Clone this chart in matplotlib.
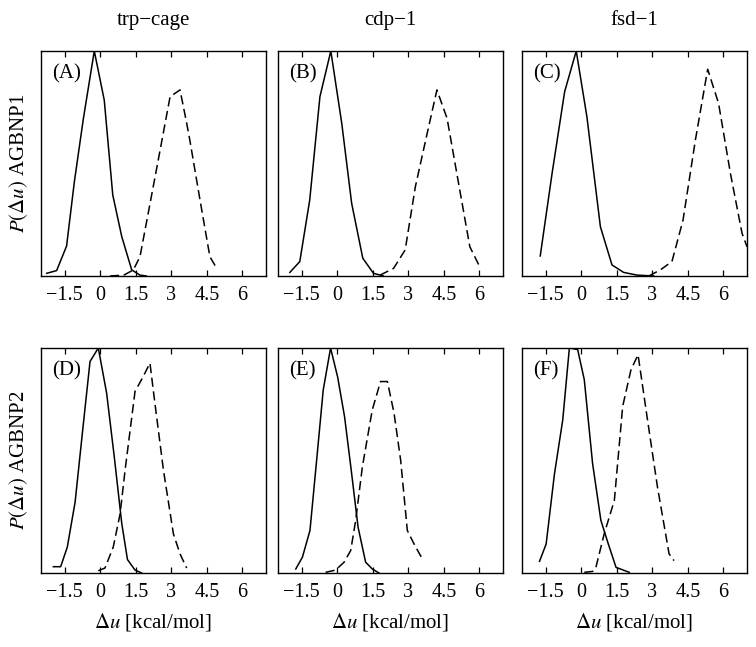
import matplotlib
matplotlib.use("Agg")
import matplotlib.pyplot as plt

plt.rcParams['font.family'] = ['Liberation Serif', 'DejaVu Serif']
plt.rcParams['mathtext.fontset'] = 'stix'

# columns / rows
proteins = ['trp\u2212cage', 'cdp\u22121', 'fsd\u22121']
models = ['AGBNP1', 'AGBNP2']
panel_tags = ['(A)', '(B)', '(C)', '(D)', '(E)', '(F)']
xticks = [-1.5, 0, 1.5, 3, 4.5, 6]

# AGBNP1 row, solid = first curve, dashed = second curve
a_solid_x = [-2.26, -1.84, -1.42, -1.09, -0.71, -0.25, 0.17, 0.53, 0.91, 1.33, 1.68, 1.95]
a_solid_y = [0.012, 0.024, 0.133, 0.42, 0.70, 1.0, 0.782, 0.36, 0.175, 0.027, 0.004, 0.0]
a_dash_x = [0.41, 1.0, 1.40, 1.68, 2.10, 2.53, 2.95, 3.37, 3.65, 3.79, 4.21, 4.63, 4.92]
a_dash_y = [0.0, 0.004, 0.027, 0.086, 0.32, 0.56, 0.797, 0.827, 0.68, 0.60, 0.34, 0.086, 0.034]

b_solid_x = [-2.0, -1.58, -1.16, -0.73, -0.27, 0.19, 0.61, 1.08, 1.53, 1.95]
b_solid_y = [0.016, 0.064, 0.338, 0.797, 1.0, 0.68, 0.323, 0.079, 0.012, 0.0]
b_dash_x = [1.81, 2.38, 2.87, 3.30, 3.79, 4.21, 4.64, 5.06, 5.60, 6.05]
b_dash_y = [0.004, 0.034, 0.116, 0.397, 0.63, 0.827, 0.70, 0.45, 0.13, 0.034]

c_solid_x = [-1.73, -1.23, -0.70, -0.21, 0.24, 0.81, 1.30, 1.79, 2.36, 3.06]
c_solid_y = [0.089, 0.456, 0.819, 1.0, 0.708, 0.219, 0.049, 0.016, 0.004, 0.0]
c_dash_x = [2.85, 3.34, 3.83, 4.30, 4.82, 5.34, 5.80, 6.30, 6.79, 7.0]
c_dash_y = [0.0, 0.027, 0.064, 0.249, 0.604, 0.919, 0.767, 0.456, 0.19, 0.13]

# AGBNP2 row
d_solid_x = [-1.98, -1.67, -1.39, -1.06, -0.74, -0.43, -0.08, 0.27, 0.59, 0.91, 1.15, 1.47, 1.75]
d_solid_y = [0.028, 0.028, 0.115, 0.315, 0.635, 0.94, 1.0, 0.80, 0.52, 0.22, 0.06, 0.013, 0.0]
d_dash_x = [-0.08, 0.20, 0.55, 0.84, 1.05, 1.47, 1.78, 2.10, 2.31, 2.67, 3.09, 3.37, 3.65]
d_dash_y = [0.01, 0.022, 0.115, 0.263, 0.457, 0.807, 0.866, 0.933, 0.754, 0.457, 0.174, 0.085, 0.022]

e_solid_x = [-1.75, -1.47, -1.15, -0.87, -0.59, -0.28, 0.02, 0.31, 0.60, 0.88, 1.20, 1.48, 1.76]
e_solid_y = [0.018, 0.07, 0.189, 0.50, 0.814, 1.0, 0.87, 0.695, 0.45, 0.204, 0.048, 0.018, 0.0]
e_dash_x = [-0.49, -0.07, 0.29, 0.57, 0.78, 1.06, 1.48, 1.83, 2.12, 2.40, 2.68, 2.96, 3.24, 3.59]
e_dash_y = [0.003, 0.013, 0.048, 0.10, 0.234, 0.47, 0.725, 0.851, 0.851, 0.71, 0.50, 0.189, 0.13, 0.063]

f_solid_x = [-1.76, -1.48, -1.13, -0.78, -0.50, -0.15, 0.13, 0.48, 0.83, 1.12, 1.47, 2.03]
f_solid_y = [0.052, 0.129, 0.44, 0.68, 1.0, 0.993, 0.859, 0.487, 0.234, 0.137, 0.025, 0.003]
f_dash_x = [0.13, 0.48, 0.62, 0.97, 1.40, 1.75, 2.10, 2.40, 2.80, 3.22, 3.71, 3.92]
f_dash_y = [0.003, 0.007, 0.025, 0.174, 0.323, 0.74, 0.903, 0.97, 0.68, 0.382, 0.085, 0.055]

solids = [(a_solid_x, a_solid_y), (b_solid_x, b_solid_y), (c_solid_x, c_solid_y),
          (d_solid_x, d_solid_y), (e_solid_x, e_solid_y), (f_solid_x, f_solid_y)]
dashes = [(a_dash_x, a_dash_y), (b_dash_x, b_dash_y), (c_dash_x, c_dash_y),
          (d_dash_x, d_dash_y), (e_dash_x, e_dash_y), (f_dash_x, f_dash_y)]

fig = plt.figure(figsize=(7.56, 6.47), dpi=100)
W, H = 756, 647
lefts = [41, 278, 522]
tops = [51, 348]
aw, ah = 225, 225

for i in range(6):
    r, c = divmod(i, 3)
    ax = fig.add_axes([lefts[c] / W, (H - tops[r] - ah) / H, aw / W, ah / H])
    sx, sy = solids[i]
    dx, dy = dashes[i]
    ax.plot(sx, sy, color='black', lw=1.1)
    ax.plot(dx, dy, color='black', lw=1.1, linestyle=(0, (6, 3)))
    ax.set_xlim(-2.5, 7)
    ax.set_ylim(0, 1.0)
    ax.set_xticks(xticks)
    ax.set_xticklabels(['\u22121.5', '0', '1.5', '3', '4.5', '6'])
    ax.set_yticks([])
    ax.tick_params(axis='x', direction='in', top=True, length=4, width=0.9,
                   labelsize=14.5, pad=7)
    for s in ax.spines.values():
        s.set_linewidth(1.0)
    ax.text(0.05, 0.94, panel_tags[i], transform=ax.transAxes, ha='left', va='top',
            fontsize=15)
    if r == 0:
        ax.set_title(proteins[c], fontsize=15, pad=19)
    else:
        ax.set_xlabel(r'$\Delta u$ [kcal/mol]', fontsize=15, labelpad=7)
    if c == 0:
        ax.set_ylabel(r'$P(\Delta u)$ ' + models[r], fontsize=15, labelpad=8)

fig.savefig('out.png', dpi=100)
